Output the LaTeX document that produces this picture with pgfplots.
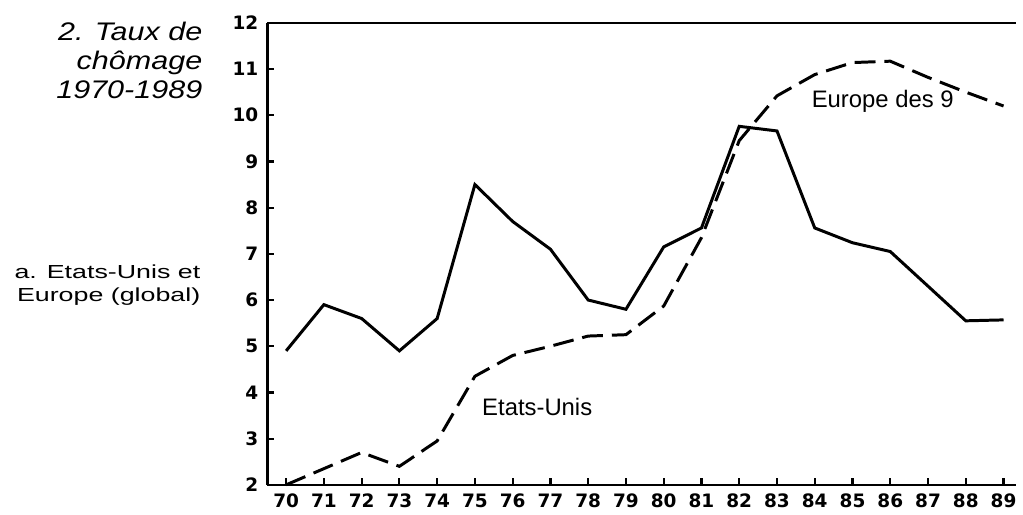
\documentclass[border=0pt]{standalone}
\usepackage{fontspec}
\setmainfont{Liberation Sans}
\newfontfamily\titlefont[FakeStretch=1.2]{Liberation Sans}
\newfontfamily\blockfont[FakeStretch=1.42]{Liberation Sans}
\newfontfamily\tickfont{DejaVu Sans}
\usepackage{pgfplots}
\pgfplotsset{compat=1.18}
\begin{document}
\begin{tikzpicture}
\begin{axis}[
  scale only axis,
  width=377pt, height=232.5pt,
  xmin=69.5, xmax=89.34,
  ymin=2, ymax=12,
  axis x line=bottom, axis y line=left,
  axis line style={-, line width=1.3pt},
  xtick={70,...,89}, ytick={2,...,12},
  tick align=inside,
  major tick length=3.5pt,
  tick style={line width=1.1pt, black},
  /pgf/number format/assume math mode=true,
  ticklabel style={font=\tickfont\bfseries\fontsize{9.3}{10}\selectfont},
  xticklabel style={yshift=-1pt},
  yticklabel style={xshift=-1pt},
  clip=false,
]
\addplot[black, line width=1.5pt] coordinates {
(70,4.9) (71,5.9) (72,5.6) (73,4.9) (74,5.6) (75,8.5) (76,7.7) (77,7.1) (78,6.0) (79,5.8)
(80,7.15) (81,7.56) (82,9.76) (83,9.66) (84,7.56) (85,7.24) (86,7.05) (87,6.3) (88,5.55) (89,5.57)
};
\addplot[black, line width=1.5pt, dash pattern=on 10.5pt off 4.5pt] coordinates {
(70,2.0) (71,2.35) (72,2.7) (73,2.4) (74,2.95) (75,4.35) (76,4.8) (77,5.0) (78,5.22) (79,5.25)
(80,5.87) (81,7.35) (82,9.45) (83,10.42) (84,10.88) (85,11.14) (86,11.17) (87,10.82) (88,10.5) (89,10.2)
};
\draw[line width=1.3pt] (rel axis cs:0,1) -- (rel axis cs:1,1);
\node[font=\fontsize{12}{14}\selectfont] at (axis cs:85.8,10.31) {Europe des 9};
\node[font=\fontsize{12}{14}\selectfont] at (axis cs:76.65,3.69) {Etats-Unis};
\node[anchor=base east, align=right, inner sep=0pt, font=\titlefont\itshape\fontsize{12.8}{14.5}\selectfont]
  at ([xshift=-32.5pt,yshift=-38pt]rel axis cs:0,1) {2. Taux de\\chômage\\1970-1989};
\node[anchor=base east, align=right, inner sep=0pt, font=\blockfont\fontsize{9.5}{11.5}\selectfont]
  at ([xshift=-33.5pt,yshift=-140pt]rel axis cs:0,1) {a. Etats-Unis et\\Europe (global)};
\path[use as bounding box] ([xshift=-134.5pt,yshift=11.5pt]rel axis cs:0,1) rectangle ([yshift=-13pt]rel axis cs:1,0);
\end{axis}
\end{tikzpicture}
\end{document}
